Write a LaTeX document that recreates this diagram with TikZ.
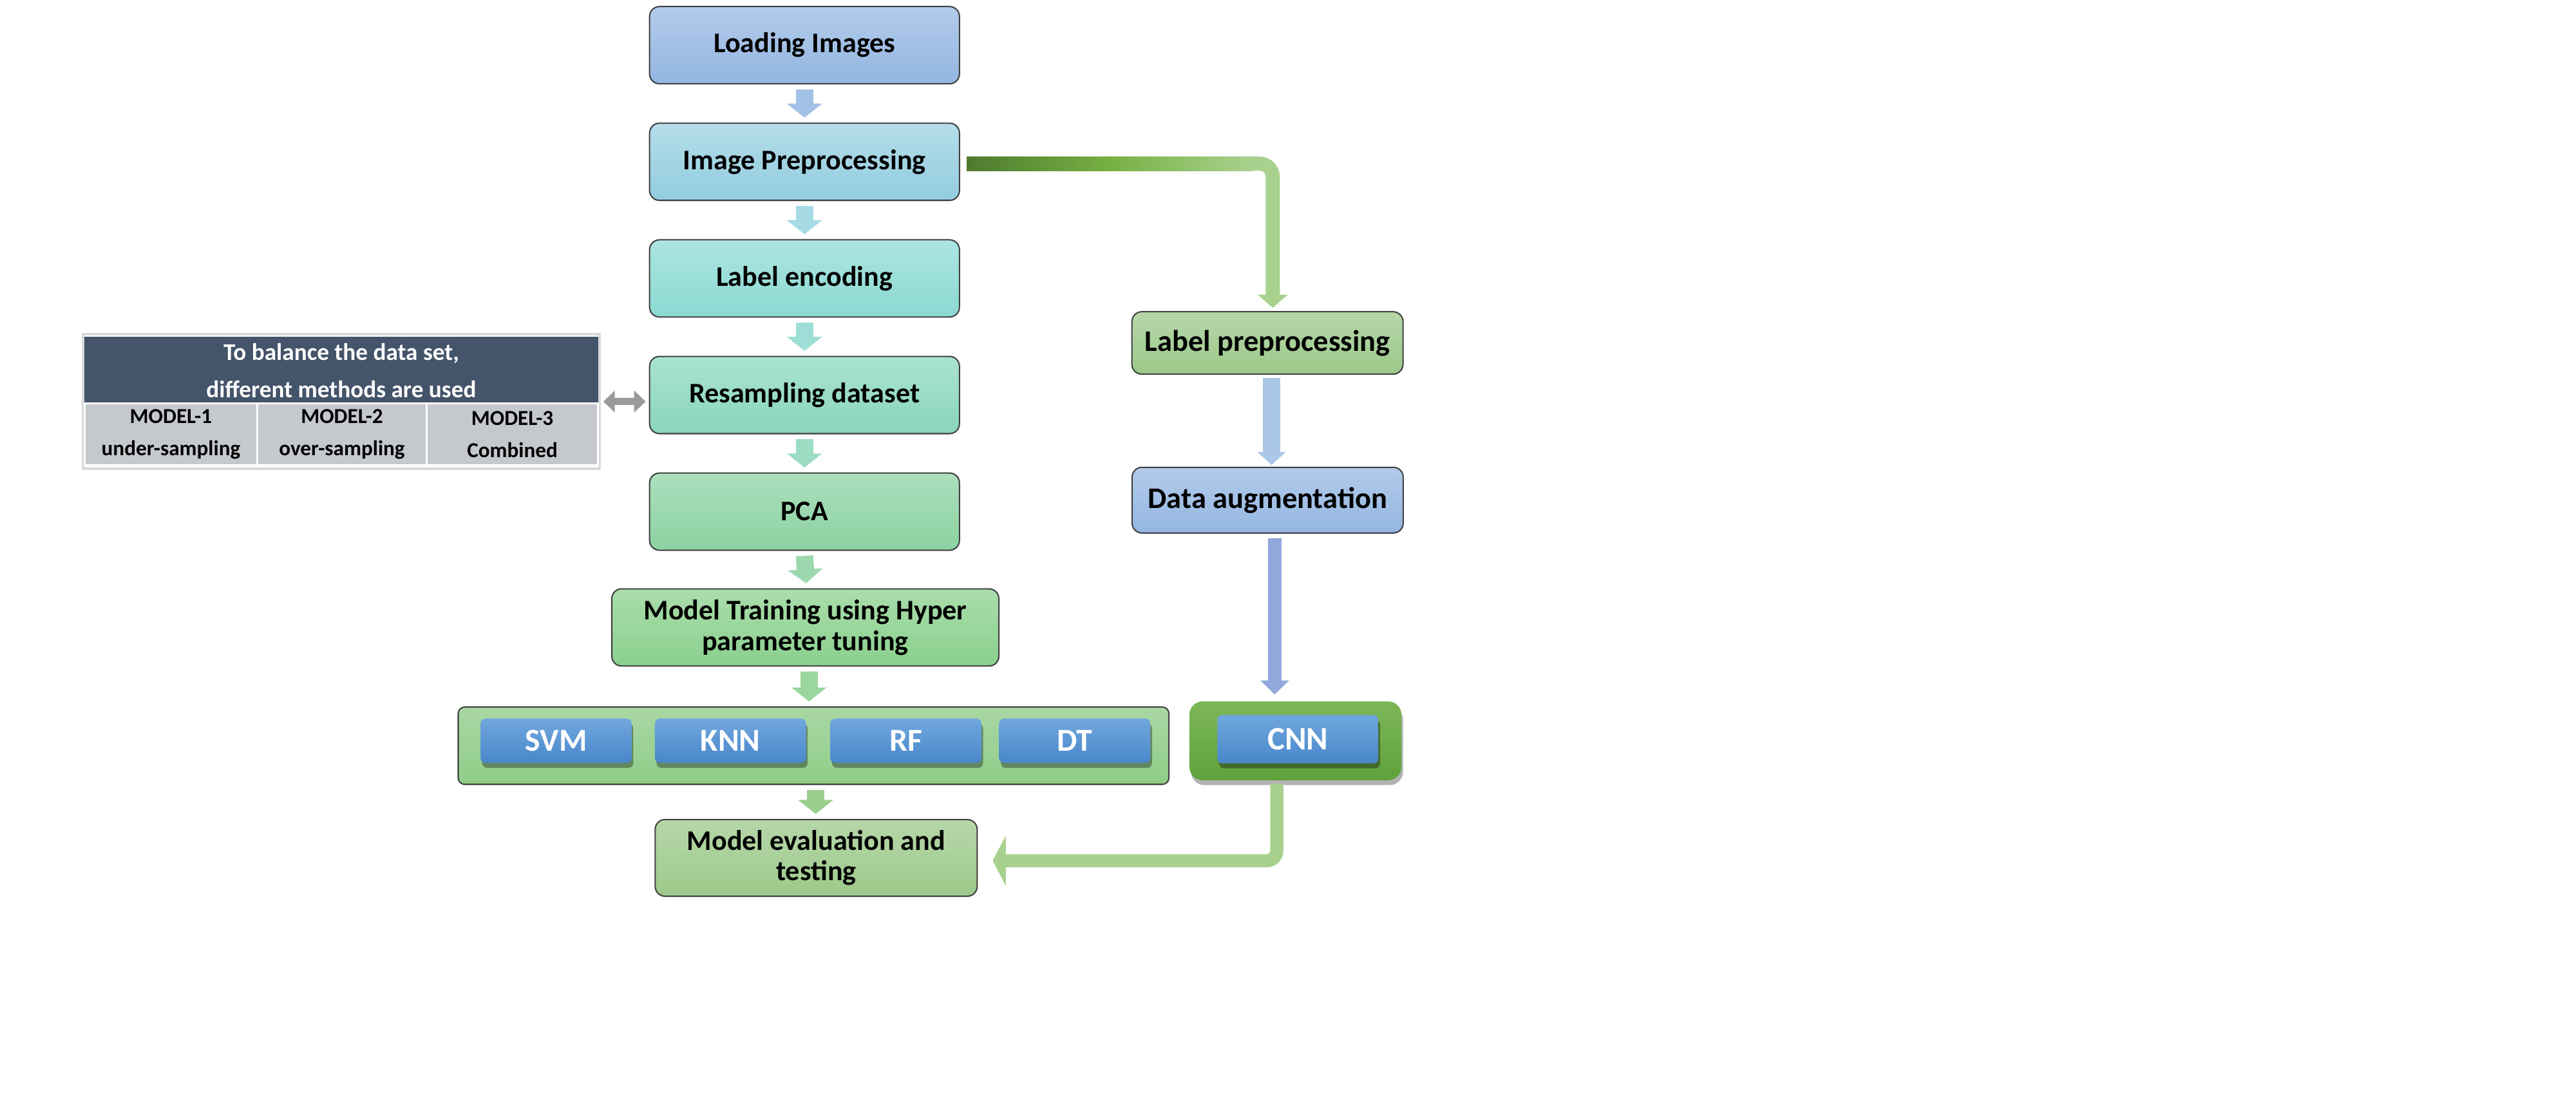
\documentclass[tikz,border=0pt]{standalone}
\usepackage{fontspec}
\setmainfont{Carlito}
\usetikzlibrary{arrows.meta,shadows,calc}

\definecolor{edge}{HTML}{404040}
\definecolor{liT}{HTML}{B3CBEA}\definecolor{liB}{HTML}{93B6E1}
\definecolor{ipT}{HTML}{B5DDE9}\definecolor{ipB}{HTML}{92CCE0}
\definecolor{leT}{HTML}{ACE5E1}\definecolor{leB}{HTML}{8BD9D2}
\definecolor{rsT}{HTML}{AAE3D3}\definecolor{rsB}{HTML}{89D5BA}
\definecolor{pcT}{HTML}{ABDFBD}\definecolor{pcB}{HTML}{8CD2A1}
\definecolor{mtT}{HTML}{AADDAB}\definecolor{mtB}{HTML}{8AD08E}
\definecolor{mlT}{HTML}{AAD7A4}\definecolor{mlB}{HTML}{8FCD88}
\definecolor{gnT}{HTML}{B6D7A9}\definecolor{gnB}{HTML}{9CC98A}
\definecolor{btT}{HTML}{70A7DE}\definecolor{btB}{HTML}{4987CA}
\definecolor{cnT}{HTML}{7DB658}\definecolor{cnB}{HTML}{5FA13A}
\definecolor{thead}{HTML}{44546A}
\definecolor{trow}{HTML}{C5C8CD}
\definecolor{tframe}{HTML}{DADADA}
\definecolor{dbl}{HTML}{9A9A9A}
\definecolor{aA}{HTML}{A3C0E6}
\definecolor{aB}{HTML}{A6DBE6}
\definecolor{aC}{HTML}{9DDFD6}
\definecolor{aD}{HTML}{9CDDC4}
\definecolor{aE}{HTML}{9CD9AE}
\definecolor{aF}{HTML}{9BD69E}
\definecolor{aG}{HTML}{9ACF8F}
\definecolor{aH}{HTML}{AAC6E9}
\definecolor{aI}{HTML}{92A8DC}
\definecolor{gl}{HTML}{A9D18E}
\definecolor{gm}{HTML}{76B043}
\definecolor{gd}{HTML}{4E7A2E}

\begin{document}
\begin{tikzpicture}[x=1pt,y=-1pt,
  box/.style={draw=edge, line width=0.8pt, rounded corners=6pt, align=center,
    inner sep=0pt, minimum width=188.6pt, minimum height=47pt,
    font=\bfseries\fontsize{17.3}{19}\selectfont},
  rbox/.style={box, minimum width=165pt, font=\bfseries\fontsize{18.2}{19}\selectfont},
  btn/.style={rounded corners=3pt, top color=btT, bottom color=btB, text=white,
    inner sep=0pt, minimum width=92pt, minimum height=27pt,
    font=\bfseries\fontsize{19.5}{21}\selectfont,
    drop shadow={shadow xshift=1pt, shadow yshift=-3pt, opacity=0.35, fill=black}},
  barrow/.style={line width=10.6pt, -{Triangle[length=8.5pt,width=21pt]}},
  tcell/.style={fill=trow, draw=white, line width=1.2pt, inner sep=0pt, align=center,
    font=\bfseries\fontsize{13}{19.5}\selectfont},
]
\useasboundingbox (0,0) rectangle (1568,670);

% ---------- main column ----------
\node[box, top color=liT, bottom color=liB] (li) at (489.7,27.5) {Loading Images};
\node[box, top color=ipT, bottom color=ipB] (ip) at (489.7,98.5) {Image Preprocessing};
\node[box, top color=leT, bottom color=leB] (le) at (489.7,169.5) {Label encoding};
\node[box, top color=rsT, bottom color=rsB] (rs) at (489.7,240.5) {Resampling dataset};
\node[box, top color=pcT, bottom color=pcB] (pca) at (489.7,311.5) {PCA};
\node[box, top color=mtT, bottom color=mtB, minimum width=235.6pt] (mt) at (490.2,382)
  {Model Training using Hyper\\parameter tuning};

\node[box, rounded corners=4pt, top color=mlT, bottom color=mlB, minimum width=432.6pt,
  minimum height=47.1pt] (ml) at (495.2,454) {};
\node[btn] (svm) at (338.5,451) {SVM};
\node[btn] (knn) at (444.6,451) {KNN};
\node[btn] (rf)  at (551.4,451) {RF};
\node[btn] (dt)  at (654.2,451) {DT};

\node[box, top color=gnT, bottom color=gnB, minimum width=196pt, minimum height=46.7pt,
  font=\bfseries\fontsize{17.3}{18.5}\selectfont] (ev) at (496.8,522.3)
  {Model evaluation and\\testing};

% ---------- right column ----------
\node[rbox, top color=gnT, bottom color=gnB, minimum height=38pt] (lp) at (771.5,208.8) {Label preprocessing};
\node[rbox, top color=liT, bottom color=liB, minimum height=40pt] (da) at (771.6,304.5) {Data augmentation};
\node[rounded corners=8pt, top color=cnT, bottom color=cnB, minimum width=129pt,
  minimum height=48pt, inner sep=0pt,
  drop shadow={shadow xshift=1pt, shadow yshift=-3pt, opacity=0.3, fill=black}]
  (cnnbox) at (788.5,451) {};
\node[btn, minimum width=98pt, minimum height=29.5pt, font=\bfseries\fontsize{20}{22}\selectfont]
  (cnn) at (790,450) {CNN};

% ---------- table ----------
\node[draw=tframe, line width=1.5pt, minimum width=314.5pt, minimum height=82pt,
  inner sep=0pt] (tbl) at (207.75,244.45) {};
\node[fill=thead, text=white, inner sep=0pt, minimum width=312.5pt, minimum height=40.8pt,
  align=center, font=\bfseries\fontsize{14.6}{22.5}\selectfont] (th) at (207.75,225.6)
  {To balance the data set,\\different methods are used};
\node[tcell, minimum width=105.1pt, minimum height=37.6pt] (m1) at (104.05,264.5) {MODEL-1\\under-sampling};
\node[tcell, minimum width=103.1pt, minimum height=37.6pt] (m2) at (208.15,264.5) {MODEL-2\\over-sampling};
\node[tcell, minimum width=104.3pt, minimum height=37.6pt] (m3) at (311.85,264.5) {MODEL-3\\Combined};

% ---------- connectors ----------
\draw[barrow, aA] ($(li.south)+(0,3)$) -- ($(ip.north)+(0,-3)$);
\draw[barrow, aB] ($(ip.south)+(0,3)$) -- ($(le.north)+(0,-3)$);
\draw[barrow, aC] ($(le.south)+(0,3)$) -- ($(rs.north)+(0,-3)$);
\draw[barrow, aD] ($(rs.south)+(0,3)$) -- ($(pca.north)+(0,-3)$);
\draw[barrow, aE] ($(pca.south)+(0,3)$) -- ($(mt.north)+(0.5,-3)$);
\draw[barrow, aF] ($(mt.south)+(2.2,3)$) -- ($(mt.south |- ml.north)+(2.2,-3)$);
\draw[barrow, aG] ($(ml.south)+(1.3,3)$) -- ($(ml.south |- ev.north)+(1.3,-3)$);

% image preprocessing -> label preprocessing (bent, gradient)
\draw[line width=8.6pt, gl, rounded corners=8pt, -{Triangle[length=8pt,width=18pt]}]
  ($(ip.east)+(4,1.1)$) -| ($(lp.north)+(3.2,-2)$);
\shade[left color=gd, right color=gl, middle color=gm]
  ($(ip.east)+(4,-3.2)$) rectangle ($(ip.east)+(178,5.4)$);

\draw[line width=10.6pt, aH, -{Triangle[length=8pt,width=17pt]}]
  ($(lp.south)+(2.5,2)$) -- ($(lp.south |- da.north)+(2.5,-1)$);
\draw[line width=8.3pt, aI, -{Triangle[length=8.5pt,width=17pt]}]
  ($(da.south)+(4.3,3)$) -- ($(da.south |- cnnbox.north)+(4.3,-4)$);

% CNN -> evaluation
\draw[line width=8pt, gl, rounded corners=6pt, -{Triangle[length=8pt,width=30pt]}]
  ($(cnnbox.south)+(-11.3,2)$) |- ($(ev.east)+(9,1.7)$);

% table <-> resampling
\draw[line width=4.5pt, dbl, {Triangle[length=7pt,width=13pt]}-{Triangle[length=7pt,width=13pt]}]
  ($(tbl.east)+(1.5,0)$) -- ($(tbl.east -| rs.west)+(-2,0)$);
\end{tikzpicture}
\end{document}
